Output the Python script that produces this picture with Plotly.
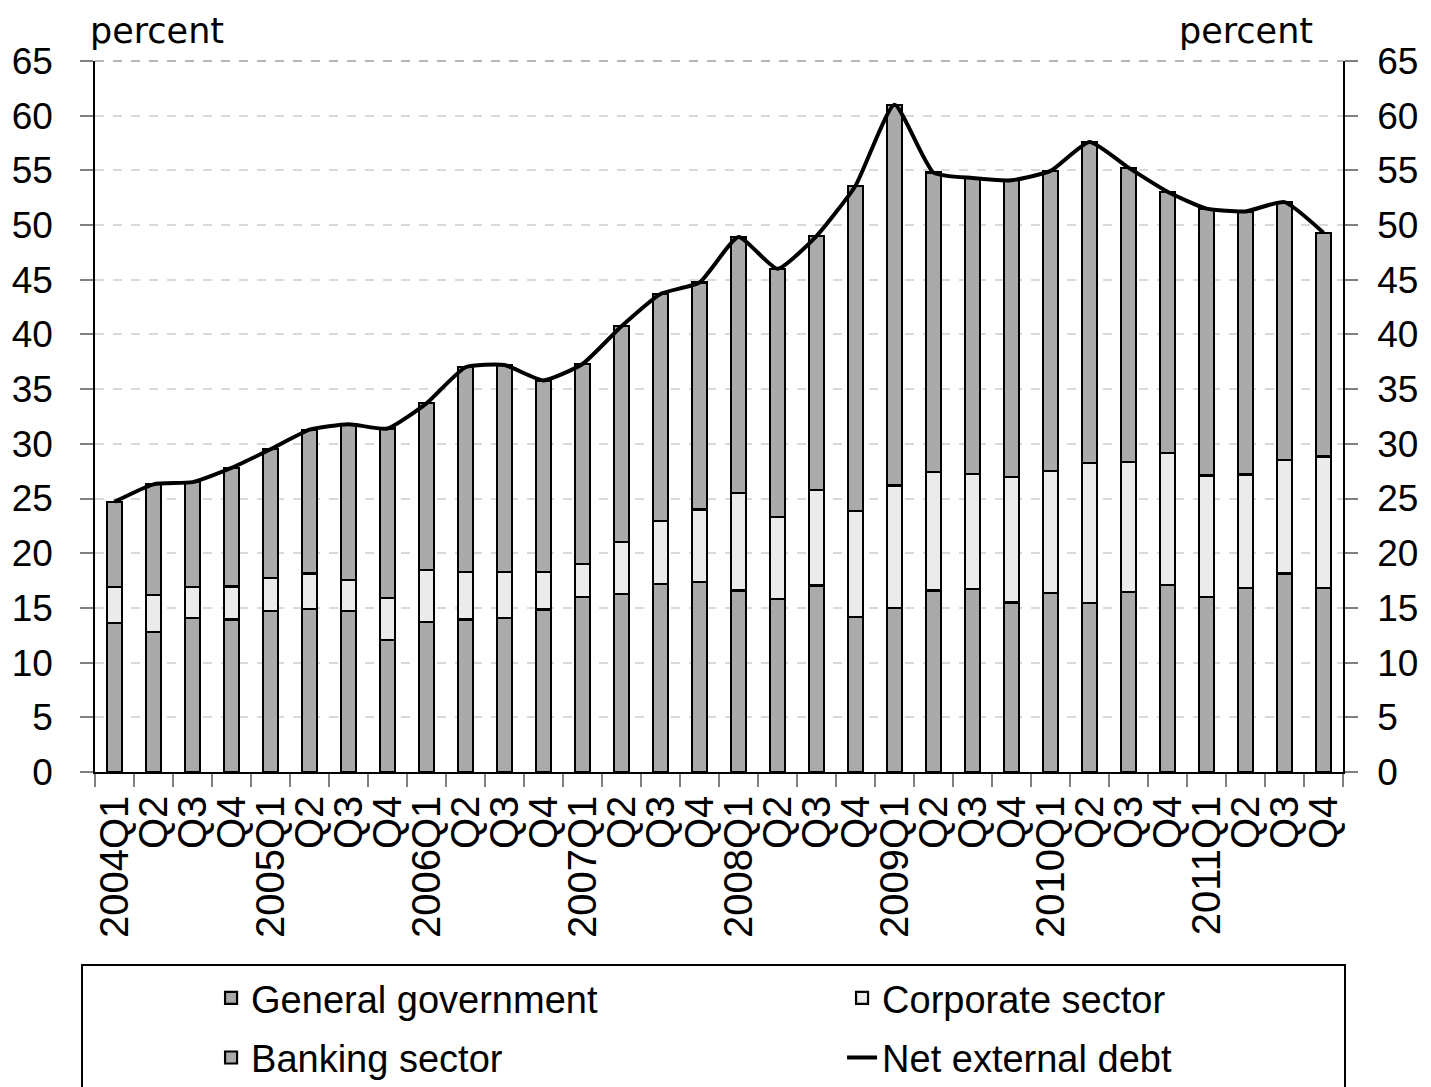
import plotly.graph_objects as go

quarters = [f"{y}Q{q}" for y in range(2004, 2012) for q in range(1, 5)]
tick_labels = [f"{y}Q1" if q == 1 else f"Q{q}" for y in range(2004, 2012) for q in range(1, 5)]

general_government = [13.6, 12.8, 14.1, 13.95, 14.7, 14.9, 14.7, 12.1,
                      13.75, 13.95, 14.1, 14.85, 16.0, 16.25, 17.2, 17.4,
                      16.6, 15.85, 17.05, 14.2, 15.0, 16.6, 16.75, 15.5,
                      16.35, 15.45, 16.45, 17.1, 16.0, 16.85, 18.15, 16.8]
corporate_sector = [3.3, 3.4, 2.8, 3.0, 3.0, 3.25, 2.85, 3.8,
                    4.75, 4.3, 4.2, 3.45, 3.05, 4.75, 5.75, 6.6,
                    8.9, 7.45, 8.75, 9.65, 11.2, 10.8, 10.5, 11.45,
                    11.15, 12.8, 11.9, 12.05, 11.1, 10.35, 10.35, 12.05]
banking_sector = [7.8, 10.1, 9.6, 10.85, 11.8, 13.15, 14.25, 15.5,
                  15.2, 18.75, 18.9, 17.5, 18.25, 19.75, 20.75, 20.75,
                  23.4, 22.7, 23.2, 29.75, 34.8, 27.4, 27.05, 27.15,
                  27.45, 29.35, 26.9, 23.9, 24.4, 24.05, 23.6, 20.45]
net_external_debt = [24.7, 26.3, 26.5, 27.8, 29.5, 31.3, 31.8, 31.4,
                     33.7, 37.0, 37.2, 35.8, 37.3, 40.75, 43.7, 44.75,
                     48.9, 46.0, 49.0, 53.6, 61.0, 54.8, 54.3, 54.1,
                     54.95, 57.6, 55.25, 53.05, 51.5, 51.25, 52.1, 49.3]

GRAY = "#AAAAAA"
LIGHT = "#EBEBEB"
FONT = "Liberation Sans"
BAR_LINE = dict(color="black", width=2.2)

fig = go.Figure()
fig.add_trace(go.Bar(x=quarters, y=general_government, name="General government",
                     marker=dict(color=GRAY, line=BAR_LINE), width=0.4, legend="legend"))
fig.add_trace(go.Bar(x=quarters, y=corporate_sector, name="Corporate sector",
                     marker=dict(color=LIGHT, line=BAR_LINE), width=0.4, legend="legend2"))
fig.add_trace(go.Bar(x=quarters, y=banking_sector, name="Banking sector",
                     marker=dict(color=GRAY, line=BAR_LINE), width=0.4, legend="legend3"))
fig.add_trace(go.Scatter(x=quarters, y=net_external_debt, name="Net external debt",
                         mode="lines", line=dict(color="black", width=4, shape="spline", smoothing=0.5),
                         yaxis="y2", legend="legend4"))

axis_font = dict(family=FONT, size=37, color="black")
xtick_font = dict(family=FONT, size=40, color="black")
leg_font = dict(family=FONT, size=38, color="black")

def leg(x, y):
    return dict(orientation="h", x=x, xanchor="left", y=y, yanchor="middle",
                font=leg_font, bgcolor="rgba(0,0,0,0)", borderwidth=0)

fig.update_layout(
    width=1431, height=1087,
    margin=dict(l=87, r=96, t=53, b=323, autoexpand=False),
    paper_bgcolor="white", plot_bgcolor="white",
    barmode="stack",
    font=dict(family=FONT, size=37, color="black"),
    xaxis=dict(type="category", tickmode="array", tickvals=quarters, ticktext=tick_labels,
               tickangle=-90, tickson="boundaries", ticks="outside", ticklen=13,
               tickcolor="#808080", tickwidth=1.5, showline=True, linecolor="black", linewidth=1.5,
               showgrid=False, tickfont=xtick_font, ticklabelstandoff=6, automargin=False),
    yaxis=dict(range=[0, 65], dtick=5, ticks="outside", ticklen=13, tickcolor="#808080",
               tickwidth=1.5, showline=True, linecolor="black", linewidth=1.5,
               showgrid=True, gridcolor="#D9D9D9", griddash="dash", gridwidth=1.5,
               zeroline=False, tickfont=axis_font, ticklabelstandoff=20, automargin=False),
    yaxis2=dict(range=[0, 65], dtick=5, overlaying="y", side="right", ticks="outside",
                ticklen=13, tickcolor="#808080", tickwidth=1.5, showline=True,
                linecolor="black", linewidth=1.5, showgrid=False, zeroline=False,
                tickfont=axis_font, ticklabelstandoff=12, automargin=False),
    legend=leg(0.093, -0.318),
    legend2=leg(0.5986, -0.318),
    legend3=leg(0.093, -0.402),
    legend4=leg(0.5986, -0.402),
    showlegend=True,
    shapes=[
        dict(type="rect", xref="paper", yref="paper", x0=-0.0104, x1=1.0016, y0=-0.2714, y1=-0.46,
             line=dict(color="black", width=2), fillcolor="rgba(0,0,0,0)", layer="below"),
        dict(type="line", xref="paper", yref="paper", x0=0, x1=1, y0=1, y1=1,
             line=dict(color="#A0A0A0", width=1.5, dash="dash")),
    ],
    annotations=[
        dict(text="percent", xref="paper", yref="paper", x=-0.0056, y=1.0735,
             xanchor="left", yanchor="top", showarrow=False,
             font=dict(family="DejaVu Sans", size=35)),
        dict(text="percent", xref="paper", yref="paper", x=0.9776, y=1.0735,
             xanchor="right", yanchor="top", showarrow=False,
             font=dict(family="DejaVu Sans", size=35)),
    ],
)

fig.write_html("out.html")
